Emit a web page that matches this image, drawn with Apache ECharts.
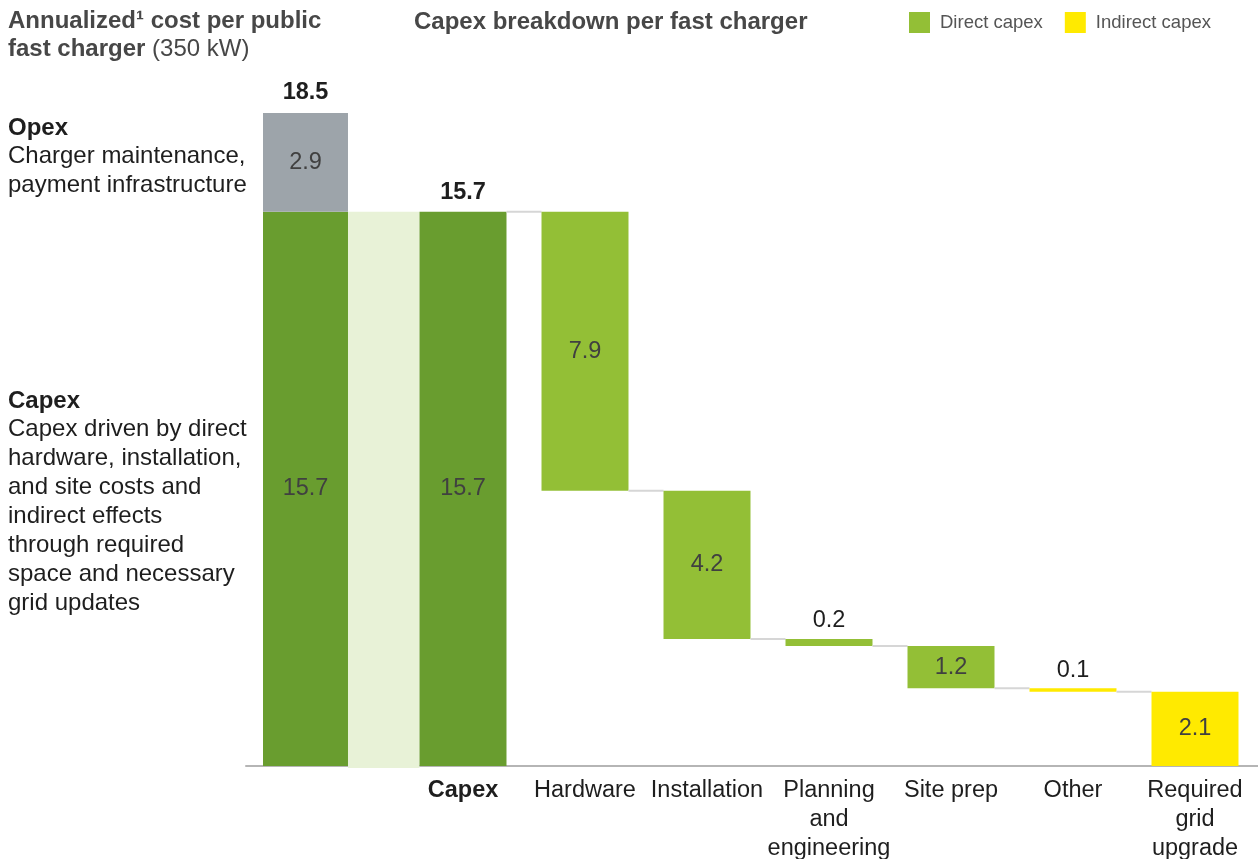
<!DOCTYPE html>
<html><head><meta charset="utf-8">
<script src="https://cdn.jsdelivr.net/npm/echarts@6/dist/echarts.min.js"></script>
<style>html,body{margin:0;padding:0;background:#fff}#c{width:1258px;height:859px}</style>
</head><body><div id="c"></div>
<script>
// ---- data ----
const opexValue = 2.9;
const capexValue = 15.7;
const totalValue = 18.5;
const categories = ['Capex', 'Hardware', 'Installation', 'Planning\nand\nengineering', 'Site prep', 'Other', 'Required\ngrid\nupgrade'];
const values = [15.7, 7.9, 4.2, 0.2, 1.2, 0.1, 2.1];
const kinds = ['total', 'direct', 'direct', 'direct', 'direct', 'indirect', 'indirect'];
const legendLabels = ['Direct capex', 'Indirect capex'];

// ---- style ----
const FONT = 'Liberation Sans, Arial, Helvetica, sans-serif';
const C = {
  dark: '#699d2f', direct: '#93bf36', indirect: '#ffea00', opex: '#9da4aa',
  band: '#e8f2d7', connect: '#d6d6d6', axis: '#b5b5b5',
  inLabel: '#404040', text: '#1e1e1e', title: '#474747', legend: '#555555'
};
const FS = 23.5;
const BAR_W = 0.713;      // bar width in slot units
const TOTAL_X = -1.291;   // slot position of the left total bar

// waterfall rows
const rows = [];
let running = 0;
values.forEach((v, i) => {
  if (kinds[i] === 'total') { running = v; rows.push([i, 0, v, v]); }
  else { rows.push([i, +(running - v).toFixed(2), running, v]); running = +(running - v).toFixed(2); }
});

function txt(x, y, text, opt) {
  return { type: 'text', x: x, y: y, z2: 10, style: Object.assign({
    text: text, fontFamily: FONT, fontSize: FS, fill: C.inLabel,
    align: 'center', verticalAlign: 'middle'
  }, opt || {}) };
}

function renderBreakdown(params, api) {
  const idx = params.dataIndex;
  const i = api.value(0), lo = api.value(1), hi = api.value(2), v = api.value(3);
  const w = api.size([BAR_W, 0])[0];
  const pTop = api.coord([i, hi]);
  const pBot = api.coord([i, lo]);
  const x0 = pTop[0] - w / 2;
  const kind = kinds[idx];
  const fill = kind === 'total' ? C.dark : (kind === 'direct' ? C.direct : C.indirect);
  const children = [];
  children.push({ type: 'rect', shape: { x: x0, y: pTop[1], width: w, height: Math.max(pBot[1] - pTop[1], 3) }, style: { fill: fill } });
  if (idx < rows.length - 1) {
    const level = kind === 'total' ? hi : lo;
    const pl = api.coord([i, level]);
    const nx = api.coord([i + 1, level])[0] - w / 2;
    children.push({ type: 'line', shape: { x1: x0 + w, y1: pl[1], x2: nx, y2: pl[1] }, style: { stroke: C.connect, lineWidth: 2 } });
  }
  const label = v.toFixed(1);
  if (v >= 1) {
    children.push(txt(pTop[0], (pTop[1] + pBot[1]) / 2, label));
  } else {
    children.push(txt(pTop[0], pTop[1] - 6, label, { verticalAlign: 'bottom', fill: C.text }));
  }
  if (kind === 'total') {
    children.push(txt(pTop[0], pTop[1] - 7, label, { verticalAlign: 'bottom', fill: C.text, fontWeight: 'bold' }));
  }
  const axisY = api.coord([i, 0])[1];
  children.push(txt(pTop[0], axisY + 10, categories[idx], {
    verticalAlign: 'top', lineHeight: 29, fill: C.text, fontWeight: kind === 'total' ? 'bold' : 'normal'
  }));
  return { type: 'group', children: children };
}

function renderTotal(params, api) {
  const x = api.value(0), capex = api.value(1), total = api.value(2), opex = api.value(3);
  const w = api.size([BAR_W * 0.977, 0])[0];
  const p0 = api.coord([x, 0]);
  const pC = api.coord([x, capex]);
  const pT = api.coord([x, total]);
  const x0 = p0[0] - w / 2;
  const capexLeft = api.coord([0, 0])[0] - api.size([BAR_W, 0])[0] / 2;
  return { type: 'group', children: [
    { type: 'rect', shape: { x: x0 + w, y: pC[1], width: capexLeft - x0 - w, height: p0[1] - pC[1] + 2 }, style: { fill: C.band } },
    { type: 'rect', shape: { x: x0, y: pC[1], width: w, height: p0[1] - pC[1] }, style: { fill: C.dark } },
    { type: 'rect', shape: { x: x0, y: pT[1], width: w, height: pC[1] - pT[1] }, style: { fill: C.opex } },
    txt(p0[0], (pC[1] + pT[1]) / 2, opex.toFixed(1)),
    txt(p0[0], (p0[1] + pC[1]) / 2, capex.toFixed(1)),
    txt(p0[0], pT[1] - 8, total.toFixed(1), { verticalAlign: 'bottom', fill: C.text, fontWeight: 'bold' })
  ] };
}

const chart = echarts.init(document.getElementById('c'), null, { renderer: 'canvas' });
chart.setOption({
  animation: false,
  backgroundColor: '#ffffff',
  grid: { left: 246, right: 0, top: 60, bottom: 93 },
  xAxis: {
    type: 'value', min: -1.7787, max: 6.5164,
    axisLine: { show: true, onZero: true, lineStyle: { color: C.axis, width: 2 } },
    axisTick: { show: false }, axisLabel: { show: false }, splitLine: { show: false }
  },
  yAxis: { type: 'value', min: 0, max: 20, show: false, splitLine: { show: false } },
  legend: {
    left: 909, top: 12, padding: 0, itemWidth: 21, itemHeight: 21, itemGap: 22, icon: 'rect',
    selectedMode: false, data: legendLabels,
    textStyle: { fontFamily: FONT, fontSize: 18.5, color: C.legend, padding: [0, 0, 0, 5] }
  },
  graphic: [
    { type: 'text', left: 8, top: 9, style: {
      text: '{b|Annualized¹ cost per public}\n{b|fast charger}{r| (350 kW)}',
      rich: {
        b: { fontFamily: FONT, fontSize: 24, fontWeight: 'bold', fill: C.title, lineHeight: 28 },
        r: { fontFamily: FONT, fontSize: 24, fill: C.title, lineHeight: 28 }
      } } },
    { type: 'text', left: 414, top: 8, style: {
      text: 'Capex breakdown per fast charger', fontFamily: FONT, fontSize: 24, fontWeight: 'bold', fill: C.title, lineHeight: 28 } },
    { type: 'text', left: 8, top: 116, style: {
      text: '{b|Opex}\n{r|Charger maintenance,}\n{r|payment infrastructure}',
      rich: {
        b: { fontFamily: FONT, fontSize: 24, fontWeight: 'bold', fill: C.text, lineHeight: 28.7 },
        r: { fontFamily: FONT, fontSize: 24, fill: C.text, lineHeight: 28.7 }
      } } },
    { type: 'text', left: 8, top: 389, style: {
      text: '{b|Capex}\n{r|Capex driven by direct}\n{r|hardware, installation,}\n{r|and site costs and}\n{r|indirect effects}\n{r|through required}\n{r|space and necessary}\n{r|grid updates}',
      rich: {
        b: { fontFamily: FONT, fontSize: 24, fontWeight: 'bold', fill: C.text, lineHeight: 28.86 },
        r: { fontFamily: FONT, fontSize: 24, fill: C.text, lineHeight: 28.86 }
      } } }
  ],
  series: [
    { name: legendLabels[0], type: 'bar', data: [], itemStyle: { color: C.direct } },
    { name: legendLabels[1], type: 'bar', data: [], itemStyle: { color: C.indirect } },
    { name: 'Annualized total', type: 'custom', clip: false, renderItem: renderTotal,
      data: [[TOTAL_X, capexValue, totalValue, opexValue]], z: 3 },
    { name: 'Capex breakdown', type: 'custom', clip: false, renderItem: renderBreakdown,
      data: rows, z: 3 }
  ]
});
</script>
</body></html>
